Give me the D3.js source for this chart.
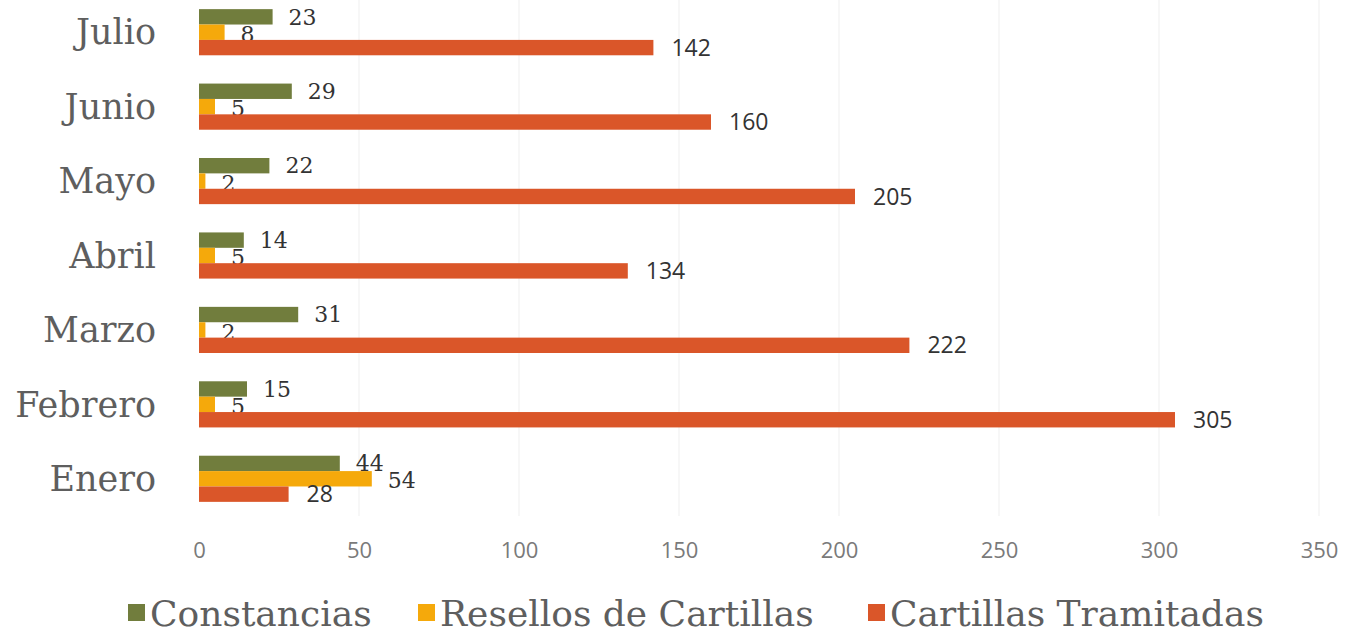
<!DOCTYPE html>
<html>
<head>
<meta charset="utf-8">
<script src="https://cdn.jsdelivr.net/npm/d3@7"></script>
<style>
  html, body { margin: 0; padding: 0; background: #fff; }
  svg { display: block; }
</style>
</head>
<body>
<svg id="chart" width="1359" height="638"></svg>
<script>
// Months, top to bottom
const months = ["Julio", "Junio", "Mayo", "Abril", "Marzo", "Febrero", "Enero"];
const seriesNames = ["Constancias", "Resellos de Cartillas", "Cartillas Tramitadas"];
const constancias = [23, 29, 22, 14, 31, 15, 44];
const resellos = [8, 5, 2, 5, 2, 5, 54];
const tramitadas = [142, 160, 205, 134, 222, 305, 28];
const xTicks = [0, 50, 100, 150, 200, 250, 300, 350];
const colors = ["#717d3d", "#f5a90b", "#da5629"];

const seriesValues = [constancias, resellos, tramitadas];
const svg = d3.select("#chart");

const x = d3.scaleLinear().domain([0, 350]).range([199, 1319]);
const y = d3.scaleBand().domain(months).range([-5, 516]).paddingInner(0.38).paddingOuter(0.19);
const ys = d3.scaleBand().domain(seriesNames).range([0, y.bandwidth()]);

// vertical gridlines
svg.append("g").selectAll("line").data(xTicks.slice(1)).join("line")
  .attr("x1", d => x(d)).attr("x2", d => x(d))
  .attr("y1", 0).attr("y2", 516)
  .attr("stroke", "#efefef").attr("stroke-width", 1);

// x axis labels
const xAxis = d3.axisBottom(x).tickValues(xTicks).tickSize(0).tickPadding(0);
const gx = svg.append("g").attr("transform", "translate(0,542)").call(xAxis);
gx.select(".domain").remove();
gx.selectAll("text")
  .attr("font-family", "'Open Sans', sans-serif")
  .attr("font-size", 22)
  .attr("fill", "#7a7a7a");

// category labels
svg.append("g").selectAll("text").data(months).join("text")
  .attr("x", 156)
  .attr("y", d => y(d) + y.bandwidth() / 2)
  .attr("dy", "0.35em")
  .attr("text-anchor", "end")
  .attr("font-family", "'DejaVu Serif', serif")
  .attr("font-size", 35)
  .attr("fill", "#5e5e5e")
  .text(d => d);

// bars and value labels
seriesNames.forEach((name, si) => {
  const vals = seriesValues[si];
  const g = svg.append("g");
  g.selectAll("rect").data(months).join("rect")
    .attr("x", x(0))
    .attr("y", m => y(m) + ys(name))
    .attr("width", (m, i) => x(vals[i]) - x(0))
    .attr("height", ys.bandwidth())
    .attr("fill", colors[si]);
  g.selectAll("text").data(months).join("text")
    .attr("x", (m, i) => x(vals[i]) + (si === 2 ? 18 : 16))
    .attr("y", m => y(m) + ys(name) + ys.bandwidth() / 2 + (si === 1 ? 2 : 0))
    .attr("dy", "0.35em")
    .attr("font-family", si === 2 ? "'Open Sans', sans-serif" : "'DejaVu Serif', serif")
    .attr("font-size", si === 2 ? 23 : 22)
    .attr("fill", "#333")
    .text((m, i) => vals[i]);
});

// legend
const legendX = [128, 418, 868];
const legend = svg.append("g");
seriesNames.forEach((name, i) => {
  legend.append("rect")
    .attr("x", legendX[i]).attr("y", 604)
    .attr("width", 17).attr("height", 17)
    .attr("fill", colors[i]);
  legend.append("text")
    .attr("x", legendX[i] + 22).attr("y", 613)
    .attr("dy", "0.35em")
    .attr("font-family", "'DejaVu Serif', serif")
    .attr("font-size", 36)
    .attr("fill", "#5e5e5e")
    .text(name);
});
</script>
</body>
</html>
